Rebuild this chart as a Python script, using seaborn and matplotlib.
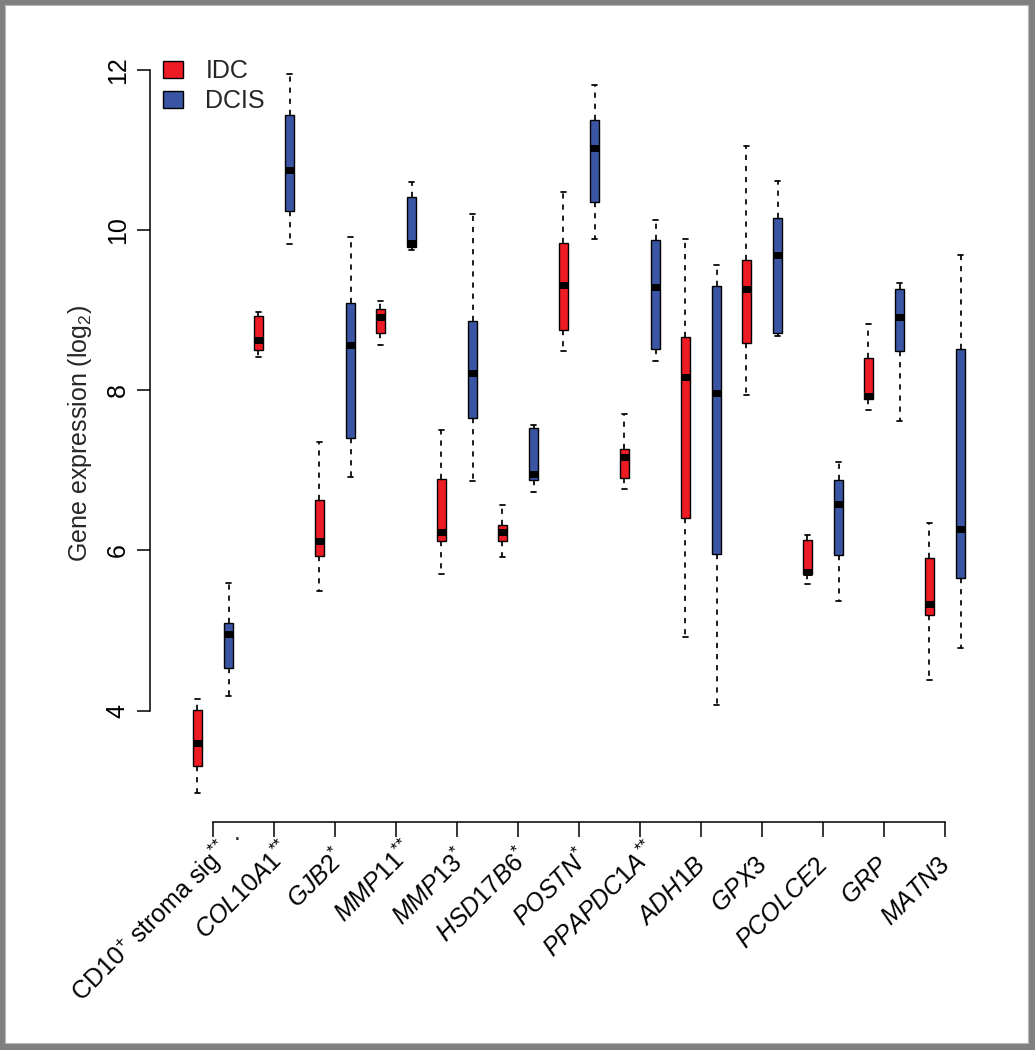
import pandas as pd
import matplotlib
matplotlib.use("Agg")
import matplotlib.pyplot as plt
from matplotlib.patches import Rectangle
from matplotlib.transforms import ScaledTranslation
import seaborn as sns


GENES = ["CD10", "COL10A1", "GJB2", "MMP11", "MMP13", "HSD17B6", "POSTN",
         "PPAPDC1A", "ADH1B", "GPX3", "PCOLCE2", "GRP", "MATN3"]

TICK_LABELS = [
    r"CD10$^{+}$ stroma sig$^{{*}{*}}$",
    r"$\mathit{COL10A1}^{{*}{*}}$",
    r"$\mathit{GJB2}^{{*}}$",
    r"$\mathit{MMP11}^{{*}{*}}$",
    r"$\mathit{MMP13}^{{*}}$",
    r"$\mathit{HSD17B6}^{{*}}$",
    r"$\mathit{POSTN}^{{*}}$",
    r"$\mathit{PPAPDC1A}^{{*}{*}}$",
    r"$\mathit{ADH1B}$",
    r"$\mathit{GPX3}$",
    r"$\mathit{PCOLCE2}$",
    r"$\mathit{GRP}$",
    r"$\mathit{MATN3}$",
]

GROUPS = ["IDC", "DCIS"]

# five-number summaries (log2 expression)
IDC_LOW = [2.97, 8.41, 5.49, 8.56, 5.71, 5.92, 8.49, 6.77, 4.92, 7.94, 5.58, 7.75, 4.38]
IDC_Q1 = [3.31, 8.50, 5.93, 8.71, 6.12, 6.12, 8.75, 6.90, 6.40, 8.59, 5.70, 7.89, 5.19]
IDC_MED = [3.60, 8.63, 6.12, 8.92, 6.23, 6.23, 9.32, 7.17, 8.16, 9.26, 5.73, 7.93, 5.33]
IDC_Q3 = [4.01, 8.93, 6.63, 9.01, 6.89, 6.32, 9.84, 7.27, 8.66, 9.63, 6.13, 8.40, 5.90]
IDC_HIGH = [4.15, 8.98, 7.35, 9.12, 7.50, 6.57, 10.47, 7.70, 9.89, 11.05, 6.19, 8.83, 6.34]

DCIS_LOW = [4.18, 9.83, 6.92, 9.75, 6.87, 6.73, 9.89, 8.37, 4.07, 8.68, 5.37, 7.62, 4.78]
DCIS_Q1 = [4.53, 10.24, 7.40, 9.79, 7.65, 6.88, 10.35, 8.52, 5.95, 8.72, 5.94, 8.49, 5.66]
DCIS_MED = [4.96, 10.75, 8.56, 9.84, 8.22, 6.96, 11.03, 9.29, 7.97, 9.69, 6.58, 8.92, 6.27]
DCIS_Q3 = [5.09, 11.44, 9.09, 10.41, 8.86, 7.53, 11.37, 9.88, 9.30, 10.15, 6.88, 9.26, 8.52]
DCIS_HIGH = [5.59, 11.95, 9.91, 10.60, 10.20, 7.57, 11.81, 10.13, 9.56, 10.61, 7.10, 9.34, 9.69]

RED = "#ED1C24"
BLUE = "#3A55A4"
BORDER_GRAY = "#808080"

W, H = 1035, 1050


rows = []
stats = {
    "IDC": [IDC_LOW, IDC_Q1, IDC_MED, IDC_Q3, IDC_HIGH],
    "DCIS": [DCIS_LOW, DCIS_Q1, DCIS_MED, DCIS_Q3, DCIS_HIGH],
}
for i, gene in enumerate(GENES):
    for group in GROUPS:
        for values in stats[group]:
            rows.append({"gene": gene, "group": group, "expression": values[i]})
df = pd.DataFrame(rows)

sns.set_theme(style="ticks")
plt.rcParams["font.family"] = ["Liberation Sans", "DejaVu Sans"]
plt.rcParams["mathtext.fontset"] = "custom"
plt.rcParams["mathtext.rm"] = "Liberation Sans"
plt.rcParams["mathtext.it"] = "Liberation Sans:italic"
plt.rcParams["mathtext.bf"] = "Liberation Sans:bold"

fig = plt.figure(figsize=(W / 100, H / 100), dpi=100)
fig.patch.set_facecolor("white")
ax = fig.add_axes([150 / W, 1 - 822 / H, 858 / W, 777 / H])

sns.boxplot(
    data=df,
    x="gene",
    y="expression",
    hue="group",
    order=GENES,
    hue_order=GROUPS,
    palette=[RED, BLUE],
    saturation=1,
    width=1.02,
    gap=0.727,
    whis=(0, 100),
    linecolor="black",
    linewidth=1.0,
    fliersize=0,
    whiskerprops={"linestyle": (0, (3.0, 3.4)), "linewidth": 1.25},
    capprops={"linewidth": 1.25},
    medianprops={"color": "black", "linewidth": 5, "solid_capstyle": "butt"},
    ax=ax
)

ax.set_ylim(2.61, 12.31)
ax.set_xlim(-1.033, len(GENES) - 1 + 1.033)
ax.set_yticks([4, 6, 8, 10, 12])
ax.set_xticks(range(len(GENES)))
ax.set_xticklabels(TICK_LABELS, rotation=45, ha="right", va="baseline",
                   rotation_mode="anchor")
ax.tick_params(axis="x", length=10.8, width=1.1, pad=21, labelsize=18,
               colors="black")
ax.tick_params(axis="y", length=9.5, width=1.1, pad=5, labelsize=18,
               labelrotation=90, colors="black")
for label in ax.get_yticklabels():
    label.set_va("center")

# the starred superscripts stick out past the tick, as in the original
for label, text in zip(ax.get_xticklabels(), TICK_LABELS):
    stars = text.count("*")
    shift = ScaledTranslation((6 + 7 * stars) / 100, 7 * stars / 100,
                              fig.dpi_scale_trans)
    label.set_transform(label.get_transform() + shift)

sns.despine(ax=ax)
ax.spines["left"].set_bounds(4, 12)
ax.spines["bottom"].set_bounds(0, len(GENES) - 1)
for side in ["left", "bottom"]:
    ax.spines[side].set_linewidth(1.1)
    ax.spines[side].set_color("black")

ax.set_xlabel("")
ax.set_ylabel("Gene expression (log$_2$)", fontsize=18)
ax.yaxis.set_label_coords(-0.065, 0.5)

sns.move_legend(
    ax, "upper left",
    bbox_to_anchor=(0.015, 0.982),
    frameon=False,
    title=None,
    fontsize=18,
    handlelength=0.8,
    handleheight=0.65,
    handletextpad=0.9,
    labelspacing=0.24,
    borderpad=0,
    borderaxespad=0
)

# stray dot next to the first label
fig.text(237 / W, 1 - 840 / H, ".", ha="center", va="baseline", fontsize=18)

# grey frame around the panel
for x, y, w, h in [(0, 0, 5, H), (W - 7, 0, 7, H), (0, H - 5, W, 5), (0, 0, W, 7)]:
    fig.patches.append(Rectangle((x / W, y / H), w / W, h / H,
                                 transform=fig.transFigure,
                                 facecolor=BORDER_GRAY, edgecolor="none"))
fig.patches.append(Rectangle((5 / W, 7 / H), (W - 12) / W, (H - 12) / H,
                             transform=fig.transFigure, fill=False,
                             edgecolor="#b8b8b8", linewidth=0.8))

fig.savefig("out.png", dpi=100)
plt.close(fig)
